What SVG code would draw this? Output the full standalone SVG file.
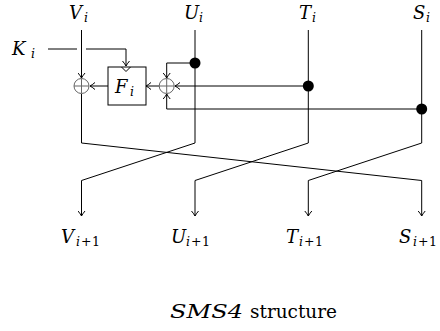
<svg xmlns="http://www.w3.org/2000/svg" width="440" height="331" viewBox="0 0 440 331">
<style>
.ln{fill:none;stroke:#000;stroke-width:1}
.xor{fill:none;stroke:#666;stroke-width:1}
text{font-family:'DejaVu Serif','Liberation Serif',serif}
.lbl{font-style:italic;font-size:18px;fill:#000}
.sub{font-size:12.5px}
.up{font-style:normal}
.cap{font-size:19px;fill:#000}
</style>
<defs>
<marker id="ah" viewBox="-6 -4 7 8" markerWidth="7" markerHeight="8" refX="0" refY="0" orient="auto" markerUnits="userSpaceOnUse">
<path d="M-5,-3.5 Q-2,-1 0,0 Q-2,1 -5,3.5" fill="none" stroke="#000" stroke-width="1"/>
</marker>
</defs>
<rect width="440" height="331" fill="#fff"/>
<g id="connectors">
<path class="ln" d="M81.5,30 V78" marker-end="url(#ah)"/>
<path class="ln" d="M81.5,94 V143 L421.7,180.5 V216" marker-end="url(#ah)"/>
<path class="ln" d="M48,49 H77"/>
<path class="ln" d="M86,49 H126 V66" marker-end="url(#ah)"/>
<path class="ln" d="M108,86 H90" marker-end="url(#ah)"/>
<path class="ln" d="M159,86 H146" marker-end="url(#ah)"/>
<path class="ln" d="M195,30 V143 L81.5,180.5 V216" marker-end="url(#ah)"/>
<path class="ln" d="M195,63 H166.7 V78" marker-end="url(#ah)"/>
<path class="ln" d="M308.3,30 V143 L195,180.5 V216" marker-end="url(#ah)"/>
<path class="ln" d="M308.3,86 H175" marker-end="url(#ah)"/>
<path class="ln" d="M421.7,30 V143 L308.3,180.5 V216" marker-end="url(#ah)"/>
<path class="ln" d="M421.7,109 H166.7 V94" marker-end="url(#ah)"/>
</g>
<g id="xor1"><circle class="xor" cx="81.5" cy="86" r="7.5"/><path class="xor" d="M74,86 H89 M81.5,78.5 V93.5"/></g>
<g id="xor2"><circle class="xor" cx="166.7" cy="86" r="7.5"/><path class="xor" d="M159.2,86 H174.2 M166.7,78.5 V93.5"/></g>
<g id="F">
<rect x="108" y="67" width="38" height="38" fill="none" stroke="#000" stroke-width="1"/>
<path class="ln" d="M121.5,67 L126,71.5 L130.5,67"/>
<text class="lbl" x="115" y="93">F<tspan class="sub" x="130" dy="3">i</tspan></text>
</g>
<g id="dots">
<circle cx="195" cy="63" r="5.5" fill="#000"/>
<circle cx="308.3" cy="86" r="5.5" fill="#000"/>
<circle cx="421.7" cy="109" r="5.5" fill="#000"/>
</g>
<g id="labels-top">
<text class="lbl" x="69" y="18.5">V<tspan class="sub" x="84" dy="3">i</tspan></text>
<text class="lbl" x="184" y="18.5">U<tspan class="sub" x="199" dy="3">i</tspan></text>
<text class="lbl" x="299" y="18.5">T<tspan class="sub" x="312" dy="3">i</tspan></text>
<text class="lbl" x="413" y="18.5">S<tspan class="sub" x="426" dy="3">i</tspan></text>
<text class="lbl" x="12" y="55">K<tspan class="sub" x="31" dy="3">i</tspan></text>
</g>
<g id="labels-bottom">
<text class="lbl" x="61" y="242.5">V<tspan class="sub" x="76" dy="3">i</tspan><tspan class="sub up" x="81">+</tspan><tspan class="sub up" x="92">1</tspan></text>
<text class="lbl" x="171" y="242.5">U<tspan class="sub" x="186" dy="3">i</tspan><tspan class="sub up" x="191">+</tspan><tspan class="sub up" x="202">1</tspan></text>
<text class="lbl" x="286" y="242.5">T<tspan class="sub" x="299" dy="3">i</tspan><tspan class="sub up" x="304">+</tspan><tspan class="sub up" x="315">1</tspan></text>
<text class="lbl" x="399" y="242.5">S<tspan class="sub" x="413" dy="3">i</tspan><tspan class="sub up" x="418">+</tspan><tspan class="sub up" x="429">1</tspan></text>
</g>
<g id="caption">
<text class="cap" x="170" y="318" font-style="italic" textLength="73" lengthAdjust="spacingAndGlyphs">SMS4</text>
<text class="cap" x="250" y="318" textLength="87" lengthAdjust="spacingAndGlyphs">structure</text>
</g>
</svg>
